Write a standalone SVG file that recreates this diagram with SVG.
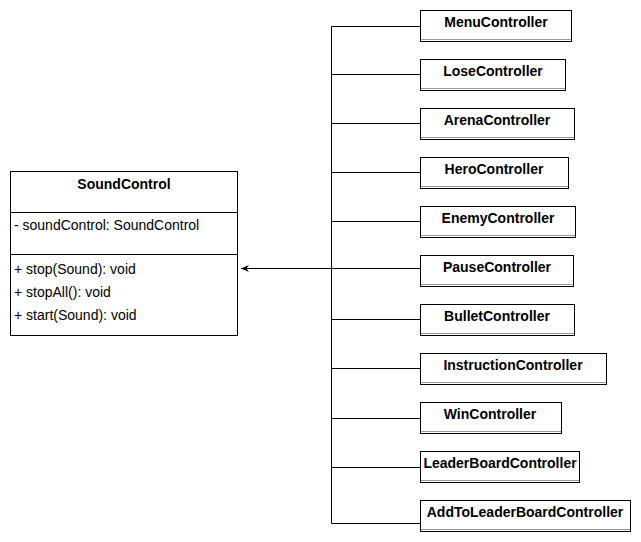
<svg xmlns="http://www.w3.org/2000/svg" width="641" height="542" viewBox="0 0 641 542">
<style>
.box{fill:#fff;stroke:#000;stroke-width:1}
.div{stroke:#999;stroke-width:1}
.t{font-family:"Liberation Sans",Arial,sans-serif;font-size:14px;fill:#000}
.b{font-weight:bold;text-anchor:middle}
.e{fill:none;stroke:#000;stroke-width:1}
</style>
<defs>
<marker id="arr" viewBox="0 0 10 10" refX="9" refY="5" markerWidth="9" markerHeight="9" markerUnits="userSpaceOnUse" orient="auto">
<path d="M0,1 L9,5 L0,9 L3,5 Z" fill="#000"/>
</marker>
</defs>
<rect width="641" height="542" fill="#fff"/>
<g id="connectors">
<path class="e" d="M420,26.5 H331.5 V268.5"/>
<path class="e" d="M420,74.5 H331.5"/>
<path class="e" d="M420,123.5 H331.5"/>
<path class="e" d="M420,172.5 H331.5"/>
<path class="e" d="M420,221.5 H331.5"/>
<path class="e" d="M420,268.5 H241" marker-end="url(#arr)"/>
<path class="e" d="M420,319.5 H331.5"/>
<path class="e" d="M420,368.5 H331.5"/>
<path class="e" d="M420,418.5 H331.5"/>
<path class="e" d="M420,467.5 H331.5"/>
<path class="e" d="M420,523.5 H331.5 V268.5"/>
</g>
<g id="SoundControl">
<rect class="box" x="10.5" y="171.5" width="227" height="164"/>
<line x1="10.5" y1="212.5" x2="237.5" y2="212.5" stroke="#000"/>
<line x1="10.5" y1="254.5" x2="237.5" y2="254.5" stroke="#000"/>
<text class="t b" x="124" y="189">SoundControl</text>
<text class="t" x="14" y="230">- soundControl: SoundControl</text>
<text class="t" x="14" y="274">+ stop(Sound): void</text>
<text class="t" x="14" y="297">+ stopAll(): void</text>
<text class="t" x="14" y="320">+ start(Sound): void</text>
</g>
<g id="MenuController">
<rect class="box" x="420.5" y="10.5" width="151" height="31"/>
<line class="div" x1="421" y1="39.5" x2="571" y2="39.5"/>
<text class="t b" x="496" y="27">MenuController</text>
</g>
<g id="LoseController">
<rect class="box" x="420.5" y="59.5" width="145" height="31"/>
<line class="div" x1="421" y1="88.5" x2="565" y2="88.5"/>
<text class="t b" x="493" y="76">LoseController</text>
</g>
<g id="ArenaController">
<rect class="box" x="420.5" y="108.5" width="154" height="31"/>
<line class="div" x1="421" y1="137.5" x2="574" y2="137.5"/>
<text class="t b" x="497" y="125">ArenaController</text>
</g>
<g id="HeroController">
<rect class="box" x="420.5" y="157.5" width="148" height="31"/>
<line class="div" x1="421" y1="186.5" x2="568" y2="186.5"/>
<text class="t b" x="494" y="174">HeroController</text>
</g>
<g id="EnemyController">
<rect class="box" x="420.5" y="206.5" width="155" height="31"/>
<line class="div" x1="421" y1="235.5" x2="575" y2="235.5"/>
<text class="t b" x="498" y="223">EnemyController</text>
</g>
<g id="PauseController">
<rect class="box" x="420.5" y="255.5" width="153" height="31"/>
<line class="div" x1="421" y1="284.5" x2="573" y2="284.5"/>
<text class="t b" x="497" y="272">PauseController</text>
</g>
<g id="BulletController">
<rect class="box" x="420.5" y="304.5" width="154" height="31"/>
<line class="div" x1="421" y1="333.5" x2="574" y2="333.5"/>
<text class="t b" x="497" y="321">BulletController</text>
</g>
<g id="InstructionController">
<rect class="box" x="420.5" y="353.5" width="186" height="31"/>
<line class="div" x1="421" y1="382.5" x2="606" y2="382.5"/>
<text class="t b" x="513" y="370">InstructionController</text>
</g>
<g id="WinController">
<rect class="box" x="420.5" y="402.5" width="141" height="31"/>
<line class="div" x1="421" y1="431.5" x2="561" y2="431.5"/>
<text class="t b" x="490" y="419">WinController</text>
</g>
<g id="LeaderBoardController">
<rect class="box" x="420.5" y="451.5" width="159" height="31"/>
<line class="div" x1="421" y1="480.5" x2="579" y2="480.5"/>
<text class="t b" x="500" y="468">LeaderBoardController</text>
</g>
<g id="AddToLeaderBoardController">
<rect class="box" x="420.5" y="500.5" width="210" height="31"/>
<line class="div" x1="421" y1="529.5" x2="630" y2="529.5"/>
<text class="t b" x="525" y="517">AddToLeaderBoardController</text>
</g>
</svg>
